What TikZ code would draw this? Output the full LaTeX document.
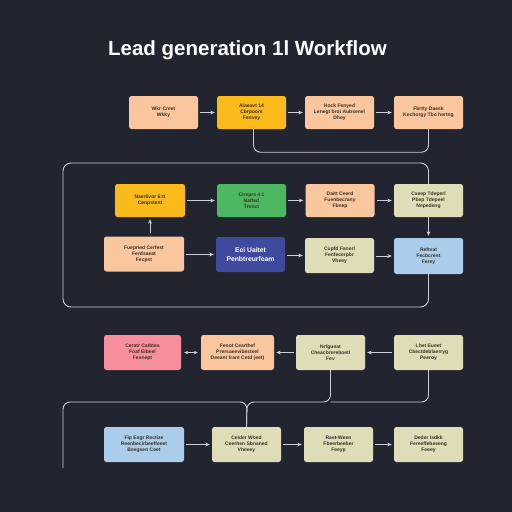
\documentclass[tikz,border=0pt]{standalone}
\usepackage{fontspec}
\setmainfont{Liberation Sans}
\usetikzlibrary{arrows.meta,calc}
\definecolor{bgnavy}{HTML}{22252F}
\definecolor{linegray}{HTML}{C9CDD5}
\definecolor{peach}{HTML}{F9C69E}
\definecolor{amber}{HTML}{FBBA1C}
\definecolor{leafgreen}{HTML}{4DB861}
\definecolor{paleolive}{HTML}{DEDDB8}
\definecolor{skyblue}{HTML}{A9CDEB}
\definecolor{indigo}{HTML}{3F4A9E}
\definecolor{rosepink}{HTML}{F68E9B}
\definecolor{boxtext}{HTML}{3A3024}
\tikzset{
  stepbox/.style={rounded corners=2.5pt, minimum width=69pt, minimum height=33pt,
    inner sep=1pt, align=center, text=boxtext, font=\fontsize{5}{6.2}\selectfont\bfseries},
  link/.style={draw=linegray, line width=0.9pt},
  flow/.style={link, shorten <=2pt, shorten >=2pt, -{Stealth[length=4.5pt,width=3.8pt]}},
}
\begin{document}
\begin{tikzpicture}[x=1pt, y=-1pt]
	\fill[bgnavy] (0,0) rectangle (512,512);
	\useasboundingbox (0,0) rectangle (512,512);

	\node (title) at (247.5, 50) [text=white, font=\fontsize{20.5}{23}\selectfont\bfseries] {Lead generation 1l Workflow};

	% first row
	\node (A) at (163.5, 112.5) [stepbox, fill=peach] {Wkr Creet\\Wkky};
	\node (B) at (251.5, 112.5) [stepbox, fill=amber] {Aiaeavt 14\\Cbrpoors\\Fenvey};
	\node (C) at (339.5, 112.5) [stepbox, fill=peach] {Hock Fenyed\\Lenegt broi Aubsenel\\Dhey};
	\node (D) at (428.5, 112.5) [stepbox, fill=peach] {Fbrtty Daesk\\Kechorgy Tbo hertng};

	% second row
	\node (E) at (150, 200.5) [stepbox, fill=amber, minimum width=70pt] {Naerlivor 6:tt\\Cenpstent};
	\node (F) at (251.5, 200.5) [stepbox, fill=leafgreen] {Cireprs 4 1\\Nafted\\Trenct};
	\node (G) at (340, 200.5) [stepbox, fill=peach] {Daitt Ceerd\\Fuenbecrany\\Fbnep};
	\node (H) at (428.5, 200.5) [stepbox, fill=paleolive] {Cxeep Tdeperl\\Pbep Tdepeel\\Nepedeng};

	% third row
	\node (J) at (144, 254) [stepbox, fill=peach, minimum width=80pt, minimum height=35pt] {Fuepried Cerfest\\Ferdsaeat\\Fecpst};
	\node (K) at (250.5, 254.5) [stepbox, fill=indigo, minimum height=35pt, text=white, font=\fontsize{6.8}{8.2}\selectfont\bfseries] {Eei Uaitet\\Penbtreurfeam};
	\node (L) at (339.5, 255.5) [stepbox, fill=paleolive, minimum height=35pt] {Cupfd Fanerl\\Fenfecerpbr\\Vheey};
	\node (M) at (428.5, 256) [stepbox, fill=skyblue, minimum height=36pt] {Reftvat\\Fecbcrent\\Ferey};

	% fourth row
	\node (N) at (142.5, 352.5) [stepbox, fill=rosepink, minimum width=77pt, minimum height=35pt] {Ceratr Catbtes\\Foaf Eibeel\\Fesnept};
	\node (O) at (237.5, 352.5) [stepbox, fill=peach, minimum width=73pt, minimum height=35pt] {Fenot Cearthef\\Prersaeevibesteel\\Deeant frant Cetd (eet)};
	\node (P) at (330.5, 352.5) [stepbox, fill=paleolive, minimum height=35pt] {Nrfgueat\\Cheacbrereboetl\\Fev};
	\node (Q) at (428.5, 352.5) [stepbox, fill=paleolive, minimum height=35pt] {Lhet Eueet\\Cbectdeblaerryg\\Peeroy};

	% fifth row
	\node (R) at (144, 444.5) [stepbox, fill=skyblue, minimum width=80pt, minimum height=35pt] {Fip Eegr Rectize\\Reenbecirbeeffeeet\\Beegsen Ceet};
	\node (S) at (246.5, 444.5) [stepbox, fill=paleolive, minimum height=35pt] {Ceider Woed\\Ceerhen Sbnaned\\Vheeey};
	\node (T) at (338.5, 444.5) [stepbox, fill=paleolive, minimum height=35pt] {Raet-Ween\\Fbeerbeeber\\Feeyp};
	\node (U) at (428.5, 444.5) [stepbox, fill=paleolive, minimum height=35pt] {Deder Isdkk\\Fereeffebeeeng\\Feeey};

	\coordinate (loopTL) at (63, 163);
	\coordinate (loopBL) at (63, 307);
	\coordinate (join) at (247, 402);
	\coordinate (tailL) at (63, 468);

	\draw [flow] (A) -- (B);
	\draw [flow] (B) -- (C);
	\draw [flow] (C) -- (D);
	\draw [link, rounded corners=7pt] ($(B.south)+(2,0)$) |- ($(D.south)+(0,23)$) -- (D.south);

	\draw [flow] (E) -- (F);
	\draw [flow] (F) -- (G);
	\draw [flow] (G) -- (H);
	\draw [flow, shorten <=3pt] (J.north -| E.south) -- (E.south);
	\draw [flow, shorten <=0pt] (H) -- (M);
	\draw [link, rounded corners=8pt] (H.north) |- (loopTL) -- (loopBL) -| (M.south);

	\draw [flow] (J.east |- K) -- (K.west);
	\draw [flow] (K.east |- L) -- (L.west);
	\draw [flow] (L.east |- M) -- (M.west);

	\draw [link, shorten <=3pt, shorten >=3pt, {Stealth[length=4pt,width=3.5pt]}-{Stealth[length=4pt,width=3.5pt]}] (N) -- (O);
	\draw [flow] (P) -- (O);
	\draw [flow] (Q) -- (P);
	\draw [link, rounded corners=7pt] (P.south) |- (join) -- (S.north);
	\draw [link, rounded corners=7pt] (tailL) |- (join) -- (S.north);
	\draw [link, rounded corners=7pt] (Q.south) |- (P.south |- join);

	\draw [flow] (R) -- (S);
	\draw [flow] (S) -- (T);
	\draw [flow] (T) -- (U);
\end{tikzpicture}
\end{document}
